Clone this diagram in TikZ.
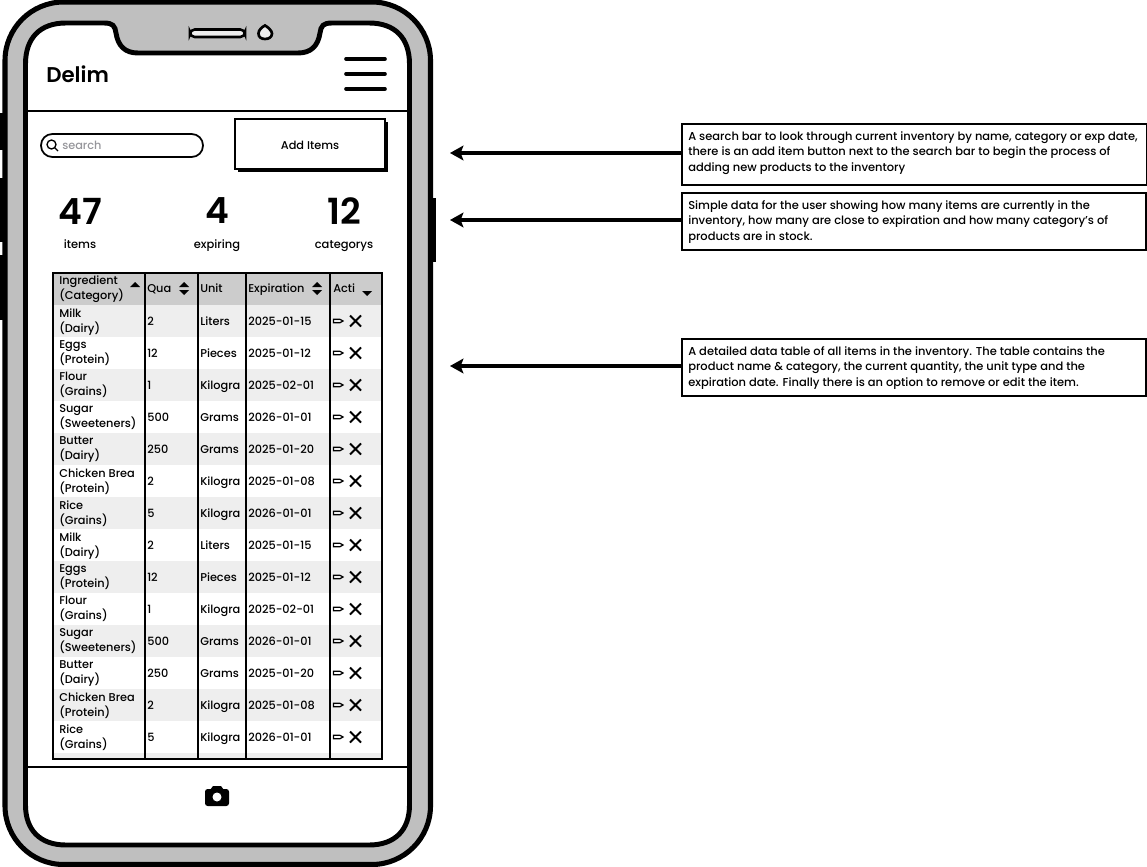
\documentclass[tikz,border=0pt]{standalone}
\usepackage{fontspec}
\setmainfont{Poppins Medium}
\newfontfamily\titlefont{Poppins SemiBold}
\usetikzlibrary{positioning, arrows.meta}
\definecolor{bezel}{RGB}{191,191,191}
\definecolor{headgray}{RGB}{204,204,204}
\definecolor{rowgray}{RGB}{238,238,238}
\definecolor{hintgray}{RGB}{150,150,155}

\begin{document}
\begin{tikzpicture}[
    x=0.75pt, y=-0.75pt,
    callout/.style={rectangle,
        draw=black,
        line width=1.7pt,
        fill=white,
        anchor=north west,
        inner sep=0pt,
        },
    note_txt/.style={anchor=north west,
        inner sep=0pt,
        align=left,
        font=\fontsize{8.6}{11.8}\selectfont,
        },
    pointer/.style={line width=2.6pt,
        -{Stealth[length=10pt, width=11pt, inset=2pt]},
        },
    cell/.style={anchor=west,
        inner sep=0pt,
        align=left,
        font=\fontsize{8.5}{11.2}\selectfont,
        execute at begin node=\strut,
        execute at end node=\strut,
        },
    stat_num/.style={font=\titlefont\fontsize{27}{27}\selectfont},
    stat_txt/.style={font=\fontsize{8.6}{11}\selectfont,
        inner sep=0pt,
        execute at begin node=\strut,
        },
    ]
    \useasboundingbox (0,0) rectangle (1147,867);

    % side buttons
    \fill (0.5,113) rectangle (6,150);
    \fill (0.5,178) rectangle (6,242);
    \fill (0.5,255) rectangle (6,320);
    \fill (429,198) rectangle (436,262);

    % phone body and screen
    \draw[line width=3.8pt, fill=bezel, rounded corners=44pt] (5,2) rectangle (430.5,864.5);
    \draw[line width=3.7pt, fill=white]
        (25.5,64) .. controls (25.5,38) and (40,23) .. (66,23) -- (104,23)
        .. controls (113,23) and (115,26) .. (116,33)
        .. controls (118,46) and (125,53) .. (138,53) -- (298,53)
        .. controls (311,53) and (318,46) .. (320,33)
        .. controls (321,26) and (323,23) .. (332,23) -- (369,23)
        .. controls (395,23) and (409.5,38) .. (409.5,64) -- (409.5,805)
        .. controls (409.5,830) and (395,845) .. (369,845) -- (66,845)
        .. controls (40,845) and (25.5,830) .. (25.5,805) -- cycle;
    \draw[line width=1.9pt, fill=rowgray, rounded corners=3.5pt] (190,29.5) rectangle (245,37);
    \draw[line width=2pt, fill=rowgray] (265,25.5) .. controls (268,27) and (272,31) .. (272,33.5)
        .. controls (272,37) and (269,39) .. (265,39)
        .. controls (261,39) and (258.5,37) .. (258.5,33.5)
        .. controls (258.5,30) and (262,27) .. (265,25.5) -- cycle;

    % app bar
    \node[anchor=west, inner sep=0pt, font=\titlefont\fontsize{16}{20}\selectfont] (n_title) at (46,74) {Delim};
    \foreach \ypos [count=\i] in {59,74,89} {
        \coordinate (menu\i_a) at (346,\ypos);
        \coordinate (menu\i_b) at (385,\ypos);
        \draw[line width=2.7pt, line cap=round] (menu\i_a) -- (menu\i_b);
    }
    \draw[line width=0.9pt] (28,111) -- (407,111);
    \draw[line width=0.9pt] (28,767) -- (407,767);

    % search and button
    \draw[line width=1.3pt, rounded corners=8.5pt] (41,134) rectangle (203,157);
    \draw[line width=1pt] (51.5,144.5) circle (4.5) (55,148) -- (58,151);
    \node[cell, text=hintgray] (n_search) at (62,146.5) {search};
    \fill (238,122) rectangle (388,172);
    \draw[line width=1.1pt, fill=white] (235,119) rectangle (385,169);
    \node[cell, anchor=center] (n_add) at (310,146.5) {Add Items};

    % stats
    \node[stat_num] (n_items) at (80,211) {47};
    \node[stat_num] (n_expiring) at (217,211) {4};
    \node[stat_num] (n_cats) at (344,211) {12};
    \node[stat_txt] (l_items) at (80,246) {items};
    \node[stat_txt] (l_expiring) at (217,246) {expiring};
    \node[stat_txt] (l_cats) at (344,246) {categorys};

    % table
    \fill[headgray] (53,273) rectangle (382,305);
    \fill[rowgray] (53,753) rectangle (382,759);
    \foreach \prod/\group/\qty/\unit/\expiry [count=\r from 0] in {
        Milk/Dairy/2/Liters/2025-01-15,
        Eggs/Protein/12/Pieces/2025-01-12,
        Flour/Grains/1/Kilogra/2025-02-01,
        Sugar/Sweeteners/500/Grams/2026-01-01,
        Butter/Dairy/250/Grams/2025-01-20,
        Chicken Brea/Protein/2/Kilogra/2025-01-08,
        Rice/Grains/5/Kilogra/2026-01-01,
        Milk/Dairy/2/Liters/2025-01-15,
        Eggs/Protein/12/Pieces/2025-01-12,
        Flour/Grains/1/Kilogra/2025-02-01,
        Sugar/Sweeteners/500/Grams/2026-01-01,
        Butter/Dairy/250/Grams/2025-01-20,
        Chicken Brea/Protein/2/Kilogra/2025-01-08,
        Rice/Grains/5/Kilogra/2026-01-01} {
        \pgfmathsetmacro{\ytop}{305+32*\r}
        \pgfmathsetmacro{\ymid}{\ytop+16}
        \ifodd\r\else
            \fill[rowgray] (53,\ytop) rectangle (382,\ytop+32);
        \fi
        \node[cell] (n\r_prod) at (59,\ymid+1.5) {\prod\\(\group)};
        \node[cell] (n\r_qty) at (147,\ymid+1.5) {\qty};
        \node[cell] (n\r_unit) at (200,\ymid+1.5) {\unit};
        \node[cell] (n\r_date) at (248,\ymid+1.5) {\expiry};
        % pencil and cross
        \draw[line width=0.9pt] (333.5,\ymid-1.7) -- (340,\ymid-1.7) -- (343,\ymid) -- (340,\ymid+1.7) -- (333.5,\ymid+1.7) -- cycle;
        \draw[line width=1.5pt] (350,\ymid-5.5) -- (361,\ymid+5.5) (361,\ymid-5.5) -- (350,\ymid+5.5);
    }
    \node[cell] (h_prod) at (59,290) {Ingredient\\(Category)};
    \node[cell] (h_qty) at (147,290) {Qua};
    \node[cell] (h_unit) at (200,290) {Unit};
    \node[cell] (h_date) at (248,290) {Expiration};
    \node[cell] (h_act) at (333,290) {Acti};
    % sort arrows
    \fill (130,287) -- (135,282) -- (140,287) -- cycle;
    \foreach \xpos in {184,317} {
        \fill (\xpos-5,287) -- (\xpos,282) -- (\xpos+5,287) -- cycle;
        \fill (\xpos-5,290) -- (\xpos,295) -- (\xpos+5,290) -- cycle;
    }
    \fill (362,291) -- (367,296) -- (372,291) -- cycle;
    % grid
    \foreach \xpos in {145,198,246,330} {
        \draw[line width=1.5pt] (\xpos,272) -- (\xpos,760);
    }
    \draw[line width=1.6pt] (53,273) rectangle (382,759);

    % camera
    \fill[rounded corners=2pt] (205,789) rectangle (229,806);
    \fill (210,790) -- (213,786) -- (221,786) -- (224,790) -- cycle;
    \fill[white] (217,797) circle (4.5);

    % notes
    \node[callout, minimum width=465*0.75pt, minimum height=61*0.75pt] (note_search) at (681,123) {};
    \node[note_txt] (txt_search) at (688,131) {A search bar to look through current inventory by name, category or exp date,\\there is an add item button next to the search bar to begin the process of\\adding new products to the inventory};
    \node[callout, minimum width=464*0.75pt, minimum height=57*0.75pt] (note_stats) at (681,192) {};
    \node[note_txt] (txt_stats) at (688,200) {Simple data for the user showing how many items are currently in the\\inventory, how many are close to expiration and how many category's of\\products are in stock.};
    \node[callout, minimum width=464*0.75pt, minimum height=57*0.75pt] (note_table) at (681,338) {};
    \node[note_txt] (txt_table) at (688,346) {A detailed data table of all items in the inventory. The table contains the\\product name \& category, the current quantity, the unit type and the\\expiration date. Finally there is an option to remove or edit the item.};

    \coordinate (tip_search) at (450,153);
    \coordinate (tip_stats) at (450,220);
    \coordinate (tip_table) at (450,366);
    \draw[pointer] (note_search.west |- tip_search) -- (tip_search);
    \draw[pointer] (note_stats.west |- tip_stats) -- (tip_stats);
    \draw[pointer] (note_table.west |- tip_table) -- (tip_table);
\end{tikzpicture}
\end{document}
